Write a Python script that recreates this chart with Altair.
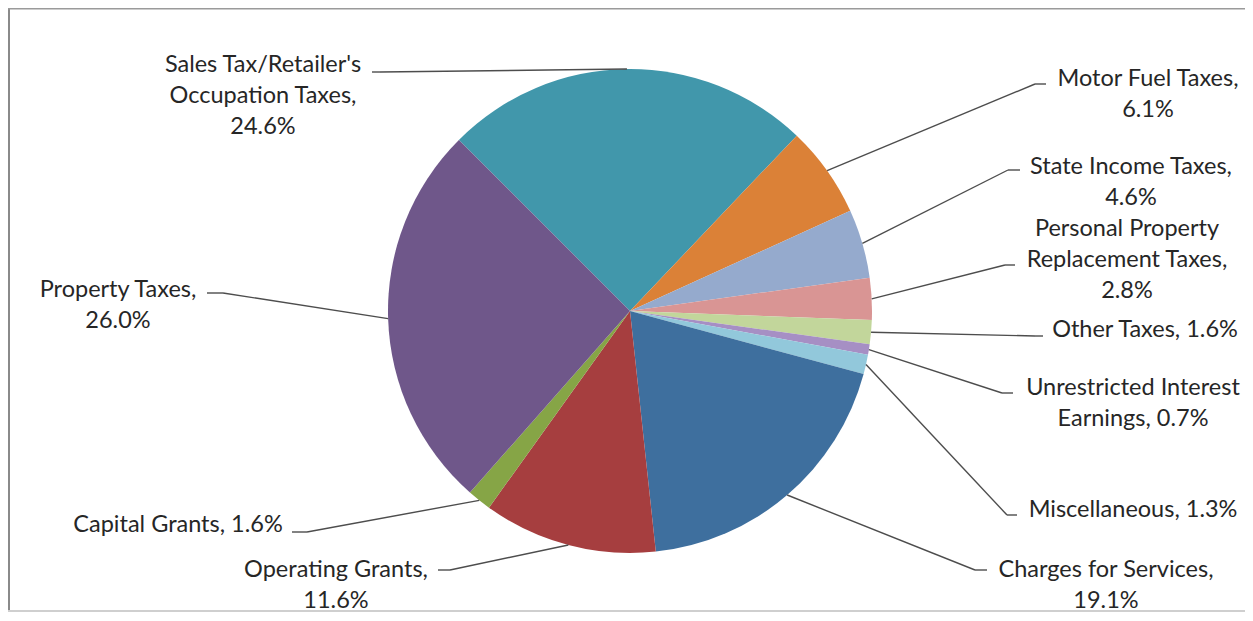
import math
import altair as alt
import pandas as pd

# ---- data ----
categories = [
    "Sales Tax/Retailer's Occupation Taxes", "Motor Fuel Taxes", "State Income Taxes",
    "Personal Property Replacement Taxes", "Other Taxes", "Unrestricted Interest Earnings",
    "Miscellaneous", "Charges for Services", "Operating Grants", "Capital Grants",
    "Property Taxes",
]
values = [24.6, 6.1, 4.6, 2.8, 1.6, 0.7, 1.3, 19.1, 11.6, 1.6, 26.0]
label_texts = [
    "Sales Tax/Retailer's\nOccupation Taxes,\n24.6%",
    "Motor Fuel Taxes,\n6.1%",
    "State Income Taxes,\n4.6%",
    "Personal Property\nReplacement Taxes,\n2.8%",
    "Other Taxes, 1.6%",
    "Unrestricted Interest\nEarnings, 0.7%",
    "Miscellaneous, 1.3%",
    "Charges for Services,\n19.1%",
    "Operating Grants,\n11.6%",
    "Capital Grants, 1.6%",
    "Property Taxes,\n26.0%",
]
colors = ["#4197AB", "#DB8137", "#95AACD", "#D99594", "#C2D69B", "#A68FC4",
          "#92C8DB", "#3E6F9E", "#A63E3F", "#86A546", "#6F578A"]

# ---- layout (page pixel positions of labels and leader elbows) ----
OFF = 8
label_x = [263, 1148, 1131, 1127, 1145, 1133, 1133, 1106, 336, 178, 118]
label_base_y = [72, 86, 174, 236, 337, 395, 517, 577, 577, 532, 297]
elbow_x = [380, 1035, 1008, 1005, 1035, 1002, 1007, 975, 450, 307, 223]
elbow_y = [72, 84, 170, 265, 336, 393, 515, 570, 570, 532, 293]
end_x = [372, 1046, 1020, 1015, 1043, 1013, 1017, 987, 438, 292, 207]

W, H = 1237, 604
CX, CY, R = 630 - OFF, 311 - OFF, 242

df = pd.DataFrame({
    "idx": list(range(len(categories))),
    "cat": categories,
    "value": values,
    "label": label_texts,
    "lx": [v - OFF for v in label_x],
    "ly": [v - OFF for v in label_base_y],
    "ex": [v - OFF for v in elbow_x],
    "ey": [v - OFF for v in elbow_y],
    "tx": [v - OFF for v in end_x],
})

xs = alt.Scale(domain=[0, W], range=[0, W], nice=False, zero=False)
ys = alt.Scale(domain=[0, H], range=[0, H], nice=False, zero=False)

base = alt.Chart(df)

pie = base.mark_arc(radius=R).encode(
    theta=alt.Theta("value:Q", stack=True,
                    scale=alt.Scale(range=[-math.pi / 4, 7 * math.pi / 4])),
    color=alt.Color("cat:N", scale=alt.Scale(domain=categories, range=colors), legend=None),
    order=alt.Order("idx:Q"),
    x=alt.value(CX),
    y=alt.value(CY),
)

anch = base.transform_joinaggregate(total="sum(value)").transform_window(
    cum="sum(value)", sort=[alt.SortField("idx")], frame=[None, 0]
).transform_calculate(
    mid="(datum.cum - datum.value/2)/datum.total*2*PI - PI/4",
).transform_calculate(
    ax=f"{CX} + {R}*sin(datum.mid)",
    ay=f"{CY} - {R}*cos(datum.mid)",
)

lead1 = anch.mark_rule(color="#4d4d4d", strokeWidth=1.4).encode(
    x=alt.X("ax:Q", scale=xs, axis=None),
    y=alt.Y("ay:Q", scale=ys, axis=None),
    x2="ex:Q",
    y2="ey:Q",
)
lead2 = base.mark_rule(color="#4d4d4d", strokeWidth=1.4).encode(
    x=alt.X("ex:Q", scale=xs, axis=None),
    y=alt.Y("ey:Q", scale=ys, axis=None),
    x2="tx:Q",
    y2="ey:Q",
)

labels = base.mark_text(
    font="Lato", fontSize=23.5, color="#262626", align="center",
    baseline="alphabetic", lineBreak="\n", lineHeight=31,
).encode(
    x=alt.X("lx:Q", scale=xs, axis=None),
    y=alt.Y("ly:Q", scale=ys, axis=None),
    text="label:N",
)

frame_df = pd.DataFrame({"x1": [1, 0, 0], "x2": [1, W, W], "y1": [0, 0.5, 603],
                         "y2": [603, 0.5, 603], "c": ["#8a8a8a", "#9a9a9a", "#cfcfcf"]})
frame = alt.Chart(frame_df).mark_rule(strokeWidth=2).encode(
    x=alt.X("x1:Q", scale=xs, axis=None), x2="x2:Q",
    y=alt.Y("y1:Q", scale=ys, axis=None), y2="y2:Q",
    color=alt.Color("c:N", scale=None),
)

chart = alt.layer(frame, pie, lead1, lead2, labels).properties(
    width=W, height=H, padding=0,
    autosize=alt.AutoSizeParams(type="none"),
).configure_view(stroke=None)

chart.save("out.html", embed_options={"renderer": "svg", "actions": False})
